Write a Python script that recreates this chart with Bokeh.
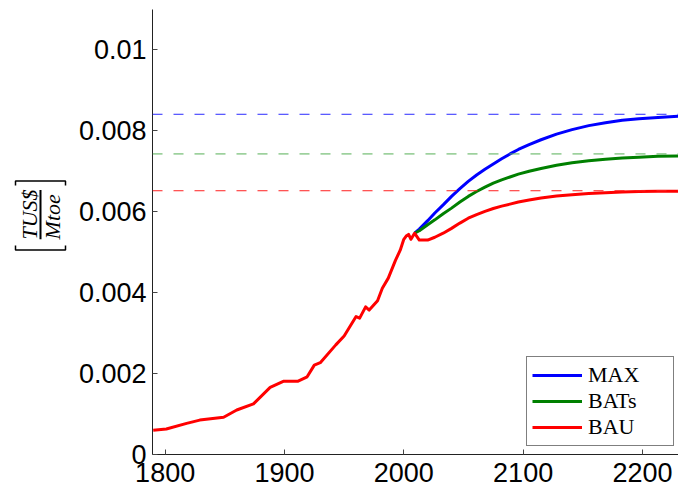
from math import pi
from bokeh.plotting import figure
from bokeh.layouts import row
from bokeh.models import (Range1d, FixedTicker, CustomJSTickFormatter, Span,
                          Legend, LegendItem)
from bokeh.core.properties import value
from bokeh.embed import file_html
from bokeh.resources import INLINE

# ---------------- data ----------------
hist_years = [1790, 1801, 1818, 1829, 1849, 1860, 1874, 1888, 1899, 1911,
              1919, 1925, 1930, 1943, 1950, 1960, 1963, 1968, 1971, 1978,
              1982, 1987, 1993, 1997, 2000, 2002, 2004, 2006, 2009]
hist_values = [0.00060, 0.00063, 0.00077, 0.00085, 0.00092, 0.00110, 0.00125,
               0.00166, 0.00181, 0.00181, 0.00192, 0.00221, 0.00227, 0.00271,
               0.00293, 0.00341, 0.00337, 0.00365, 0.00357, 0.00380, 0.00411,
               0.00436, 0.00480, 0.00505, 0.00532, 0.00540, 0.00544, 0.00532,
               0.00547]

proj_years = [2009, 2013, 2020, 2026, 2033, 2040, 2047, 2054, 2061, 2068,
              2075, 2082, 2089, 2096, 2105, 2115, 2128, 2141, 2155, 2169,
              2183, 2197, 2213, 2230]
max_values = [0.00547, 0.00557, 0.00578, 0.00597, 0.00617, 0.00638, 0.00657,
              0.00675, 0.00691, 0.00705, 0.00718, 0.00731, 0.00743, 0.00754,
              0.00766, 0.00778, 0.00792, 0.00803, 0.00813, 0.00820, 0.00826,
              0.00830, 0.00833, 0.00836]
bats_values = [0.00547, 0.00553, 0.00568, 0.00580, 0.00595, 0.00609, 0.00624,
               0.00638, 0.00650, 0.00661, 0.00671, 0.00679, 0.00686, 0.00693,
               0.00700, 0.00707, 0.00715, 0.00721, 0.00726, 0.00730, 0.00733,
               0.00735, 0.00737, 0.00738]
bau_values = [0.00547, 0.00530, 0.00530, 0.00537, 0.00547, 0.00559, 0.00572,
              0.00584, 0.00593, 0.00601, 0.00608, 0.00614, 0.00619, 0.00624,
              0.00629, 0.00634, 0.00639, 0.00642, 0.00645, 0.00647, 0.00649,
              0.00650, 0.00651, 0.00651]

limit_values = [0.00841, 0.00743, 0.00652]   # MAX, BATs, BAU asymptotes
series_names = ["MAX", "BATs", "BAU"]

x_ticks = [1800, 1900, 2000, 2100, 2200]
y_ticks = [0, 0.002, 0.004, 0.006, 0.008, 0.01]

ylabel_num = "TUS$"
ylabel_den = "Mtoe"

# ---------------- styles ----------------
line_colors = ["#0000ff", "#008000", "#ff0000"]
dash_colors = ["#2a2aff", "#55b055", "#ff2020"]

# ---- left strip carrying the y-axis label [ TUS$ / Mtoe ] ----
W_LAB, H = 75, 497
lab = figure(width=W_LAB, height=H, output_backend="svg", toolbar_location=None,
             x_range=Range1d(0, W_LAB), y_range=Range1d(0, H),
             min_border=0, tools="")
lab.axis.visible = False
lab.grid.visible = False
lab.outline_line_color = None
lab.text(x=[29, 52], y=[268, 265.5], text=[ylabel_num, ylabel_den],
         angle=pi / 2, text_align="center", text_baseline="middle",
         text_font=value("Liberation Serif"), text_font_style="italic",
         text_font_size="22px", text_color="black")
# fraction bar and brackets (decoration of the label)
lab.multi_line(xs=[[40, 40], [15, 15, 65, 65], [15, 15, 65, 65]],
               ys=[[295.5, 240.5], [300.5, 305.5, 305.5, 300.5],
                   [233.5, 228.5, 228.5, 233.5]],
               line_color="black", line_width=[2, 1.5, 1.5])

# ---- main chart ----
p = figure(width=678 - W_LAB, height=H, output_backend="svg",
           toolbar_location=None,
           x_range=Range1d(1789.4, 2230.2), y_range=Range1d(0, 0.011),
           min_border_left=149 - W_LAB, min_border_right=0, min_border_top=9,
           min_border_bottom=43)
p.outline_line_color = None
p.grid.visible = False
p.background_fill_color = "white"
p.border_fill_color = "white"

for ax in (p.xaxis[0], p.yaxis[0]):
    ax.axis_line_color = "#222222"
    ax.axis_line_width = 1
    ax.major_tick_line_color = "#444444"
    ax.major_tick_in = 5
    ax.major_tick_out = 0
    ax.minor_tick_line_color = None
    ax.major_label_text_font = "Liberation Sans"
    ax.major_label_text_font_size = "27px"
    ax.major_label_text_color = "black"

p.xaxis.ticker = FixedTicker(ticks=x_ticks)
p.yaxis.ticker = FixedTicker(ticks=y_ticks)
p.xaxis.major_label_standoff = 8
p.yaxis.major_label_standoff = 6
p.yaxis.formatter = CustomJSTickFormatter(
    code="return tick.toFixed(3).replace(/\\.?0+$/, '');")

# asymptote dashed lines
for v, c in zip(limit_values, dash_colors):
    p.add_layout(Span(location=v, dimension="width", line_color=c,
                      line_width=1, line_dash="10 11"))

# scenario curves
r_max = p.line(proj_years, max_values, line_color=line_colors[0], line_width=3,
               line_join="round")
r_bats = p.line(proj_years, bats_values, line_color=line_colors[1],
                line_width=3, line_join="round")
red_x = hist_years + proj_years[1:]
red_y = hist_values + bau_values[1:]
r_bau = p.line(red_x, red_y, line_color=line_colors[2], line_width=3,
               line_join="round")

legend = Legend(items=[LegendItem(label=series_names[0], renderers=[r_max]),
                       LegendItem(label=series_names[1], renderers=[r_bats]),
                       LegendItem(label=series_names[2], renderers=[r_bau])],
                location=(374, 8), margin=0, padding=5, spacing=0,
                glyph_width=50, glyph_height=22, label_height=22,
                label_width=80, label_standoff=6,
                label_text_font="Liberation Serif", label_text_font_size="22px",
                label_text_color="black",
                border_line_color="black", border_line_width=1,
                background_fill_alpha=1.0)
p.add_layout(legend)

layout = row(lab, p, spacing=0)
open("out.html", "w").write(file_html(layout, INLINE))
